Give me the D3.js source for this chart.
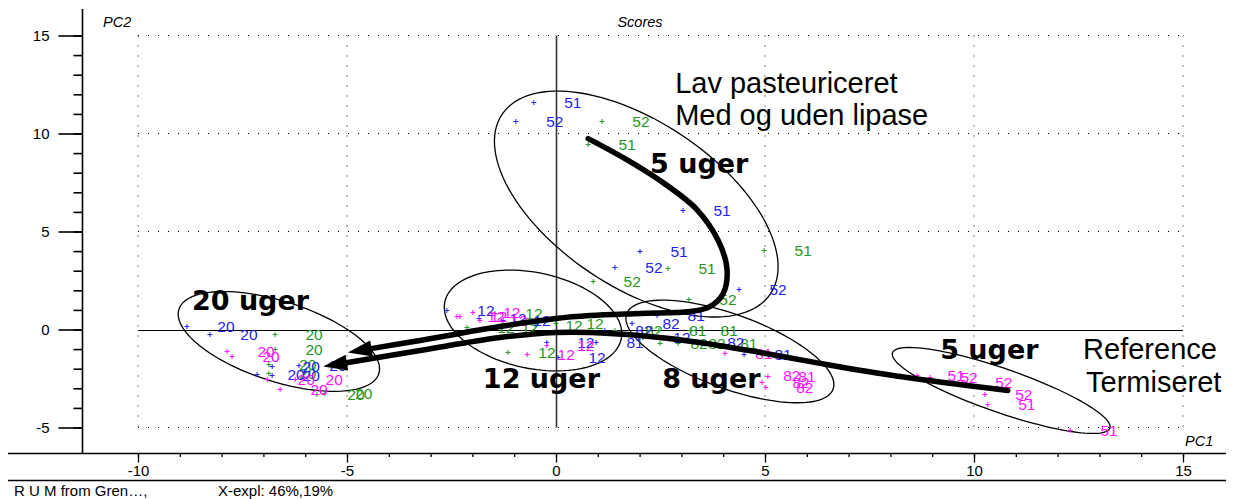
<!DOCTYPE html>
<html><head><meta charset="utf-8">
<script src="https://cdn.jsdelivr.net/npm/d3@7"></script>
<style>
body{margin:0;background:#fff}
svg{display:block;font-family:"Liberation Sans",Arial,sans-serif}
</style>
</head><body>
<svg id="c" width="1239" height="499"></svg>
<script>
// ---------- data ----------
const xMajorTicks = [-10, -5, 0, 5, 10, 15];
const xTickLabels = ["-10", "-5", "0", "5", "10", "15"];
const yMajorTicks = [-5, 0, 5, 10, 15];
const yTickLabels = ["-5", "0", "5", "10", "15"];
const xMinorTicks = d3.range(-10, 16);
const yMinorTicks = d3.range(-5, 16);

// blue series
const blueX = [-0.53, -0.96, 3.04, 2.01, 1.41, 4.38,
               -8.83, -8.28, -6.79, -7.15, -6.79, -6.15,
               -2.61, -1.84, -1.27, -0.22, 0.05, 2.08,
               2.42, 1.17, 0.96, 1.82, 3.37, 4.50];
const blueY = [11.58, 10.61, 6.07, 3.98, 3.16, 2.04,
               0.15, -0.26, -1.89, -2.30, -2.35, -1.84,
               0.97, 0.56, 0.46, -0.66, -1.43, -0.41,
               0.71, -0.05, -0.66, 0.31, -0.66, -1.28];
const blueLab = ["51","52","51","51","52","52",
                 "20","20","20","20","20","20",
                 "12","12","12","12","12","12",
                 "81","82","81","82","82","81"];
// green series
const greenX = [1.10, 0.77, 2.68, 0.89, 4.98, 3.18,
                -6.72, -6.72, -6.87, -6.87, -5.72, -5.53,
                -2.13, -1.56, -1.46, -1.15, -0.50, 0.00,
                1.41, 2.46, 3.21, 2.49, 2.92, 3.68];
const greenY = [10.61, 9.44, 3.11, 2.45, 4.03, 1.53,
                -0.26, -1.02, -1.79, -2.24, -3.32, -3.27,
                0.10, 0.10, 0.82, -1.17, 0.20, 0.31,
                -0.05, -0.05, -0.05, -0.71, -0.71, -0.71];
const greenLab = ["52","51","51","52","51","52",
                  "20","20","20","20","20","20",
                  "12","12","12","12","12","12",
                  "82","81","81","82","82","81"];
// magenta series
const magX = [-7.87, -7.75, -6.91, -6.24, -6.60,
              -2.37, -2.30, -1.99, -1.82, -0.69, -0.22,
              4.04, 4.71, 5.07, 4.93, 5.02,
              8.64, 8.95, 9.78, 10.26, 10.33, 12.30];
const magY = [-1.12, -1.38, -2.55, -2.55, -3.06,
              0.66, 0.66, 0.87, 0.46, -1.28, -0.82,
              -1.22, -2.35, -2.40, -2.70, -2.96,
              -2.35, -2.45, -2.70, -3.32, -3.83, -5.15];
const magLab = ["20","20","20","20","20",
                "12","12","12","12","12","12",
                "81","82","81","82","82",
                "51","52","52","52","51","51"];

// ellipses: centre and two half-axis vectors (data units)
const ellCX = [1.92, -6.63, -0.55, 4.16, 10.65];
const ellCY = [6.40, -0.61, 0.46, -1.12, -3.11];
const ellAX = [3.21, 2.39, 2.11, 2.47, 2.60];
const ellAY = [-4.58, -1.65, -0.95, -1.92, -1.92];
const ellBX = [-1.10, -0.30, -0.24, -0.30, -0.17];
const ellBY = [-3.50, -1.94, -2.39, -1.78, -1.06];

// arrows (data units), last point = tip
const arrowA = [[0.77,9.74],[1.65,8.72],[2.49,7.60],[3.37,6.12],[3.88,4.54],[4.09,3.11],
                [4.00,1.84],[3.68,1.17],[3.21,0.92],[2.01,0.82],[0.81,0.71],[0,0.56],
                [-1.34,0.15],[-3.25,-0.56],[-4.98,-1.17]];
const arrowB = [[10.81,-3.11],[8.23,-2.40],[6.32,-1.73],[4.88,-1.17],[3.44,-0.66],[2.01,-0.31],
                [0.81,-0.15],[0,-0.15],[-1.34,-0.41],[-3.25,-1.07],[-5.57,-1.89]];

// annotation texts
const annText = ["Lav pasteuriceret", "Med og uden lipase", "5 uger", "20 uger", "12 uger", "8 uger", "5 uger", "Reference", "Termiseret"];
const annBold = [false, false, true, true, true, true, true, false, false];
const annPos = [[2.85,12.09],[2.85,10.41],[2.25,8.01],[-8.71,0.97],[-1.75,-3.01],[2.54,-3.01],[9.19,-1.48],[12.61,-1.48],[12.68,-3.21]];

// ---------- drawing ----------
const svg = d3.select("#c");
const x = d3.scaleLinear().domain([-10, 15]).range([138, 1183]);
const y = d3.scaleLinear().domain([-5, 15]).range([427.5, 35.5]);

// dotted grid
const g = svg.append("g");
[15, 10, 5, -5].forEach(v => {
  g.append("line").attr("x1", x(-10)).attr("x2", x(15)).attr("y1", y(v)).attr("y2", y(v))
    .attr("stroke", "#000").attr("stroke-width", 1).attr("stroke-dasharray", "1,9");
});
[-10, -5, 5, 10, 15].forEach(v => {
  g.append("line").attr("x1", x(v)).attr("x2", x(v)).attr("y1", y(15)).attr("y2", y(-5))
    .attr("stroke", "#000").attr("stroke-width", 1).attr("stroke-dasharray", "1,9");
});
// zero lines
g.append("line").attr("x1", x(-10)).attr("x2", x(15)).attr("y1", Math.round(y(0))+0.5).attr("y2", Math.round(y(0))+0.5)
  .attr("stroke", "#000").attr("stroke-width", 1.2);
g.append("line").attr("x1", Math.round(x(0))+0.5).attr("x2", Math.round(x(0))+0.5).attr("y1", y(15)).attr("y2", y(-5))
  .attr("stroke", "#333").attr("stroke-width", 1.6);

// frame lines
svg.append("line").attr("x1", 8).attr("x2", 1226).attr("y1", 453.5).attr("y2", 453.5).attr("stroke", "#000").attr("stroke-width", 1.6);
svg.append("line").attr("x1", 8).attr("x2", 1226).attr("y1", 480.5).attr("y2", 480.5).attr("stroke", "#000").attr("stroke-width", 1.6);
svg.append("line").attr("x1", 82.5).attr("x2", 82.5).attr("y1", 9).attr("y2", 453.5).attr("stroke", "#000").attr("stroke-width", 1.6);

// x axis ticks
const xMinorAxis = d3.axisBottom(x).tickValues(xMinorTicks).tickSize(3.5).tickFormat("");
const xMajorAxis = d3.axisBottom(x).tickValues(xMajorTicks).tickSize(9).tickPadding(3)
  .tickFormat((d, i) => xTickLabels[i]);
const gxm = svg.append("g").attr("transform", "translate(0,453.5)").call(xMinorAxis);
const gx = svg.append("g").attr("transform", "translate(0,453.5)").call(xMajorAxis);
[gxm, gx].forEach(s => { s.select(".domain").remove(); s.selectAll("line").attr("stroke", "#000").attr("stroke-width", 1.3); });
gx.attr("font-family", null).attr("font-size", null);
gx.selectAll("text").attr("font-size", 15).attr("fill", "#000");

// y axis ticks
const yMinorAxis = d3.axisLeft(y).tickValues(yMinorTicks).tickSize(9).tickFormat("");
const yMajorAxis = d3.axisLeft(y).tickValues(yMajorTicks).tickSize(24).tickPadding(9)
  .tickFormat((d, i) => yTickLabels[i]);
const gym = svg.append("g").attr("transform", "translate(82.5,0)").call(yMinorAxis);
const gy = svg.append("g").attr("transform", "translate(82.5,0)").call(yMajorAxis);
[gym, gy].forEach(s => { s.select(".domain").remove(); s.selectAll("line").attr("stroke", "#000").attr("stroke-width", 1.6); });
gy.attr("font-family", null).attr("font-size", null);
gy.selectAll("text").attr("font-size", 15).attr("fill", "#000");

// axis titles
svg.append("text").attr("x", 103).attr("y", 27).attr("font-size", 14.5).attr("font-style", "italic").text("PC2");
svg.append("text").attr("x", 640).attr("y", 27).attr("font-size", 14.5).attr("font-style", "italic").attr("text-anchor", "middle").text("Scores");
svg.append("text").attr("x", 1185).attr("y", 446).attr("font-size", 14.5).attr("font-style", "italic").text("PC1");

// footer
svg.append("text").attr("x", 14).attr("y", 496).attr("font-size", 15).text("R U M from Gren…,");
svg.append("text").attr("x", 218).attr("y", 496).attr("font-size", 15).text("X-expl: 46%,19%");

// ellipses
const lineGen = d3.line();
const ts = d3.range(0, 121).map(i => i / 120 * 2 * Math.PI);
ellCX.forEach((cx, k) => {
  const pts = ts.map(t => [x(cx + ellAX[k] * Math.cos(t) + ellBX[k] * Math.sin(t)),
                           y(ellCY[k] + ellAY[k] * Math.cos(t) + ellBY[k] * Math.sin(t))]);
  svg.append("path").attr("d", lineGen(pts) + "Z").attr("fill", "none").attr("stroke", "#000").attr("stroke-width", 1.3);
});

// points
function drawSeries(xs, ys, labs, color) {
  const gg = svg.append("g");
  xs.forEach((vx, i) => {
    const px = x(vx), py = y(ys[i]);
    gg.append("path").attr("d", `M${px-2.5},${py}H${px+2.5}M${px},${py-2.5}V${py+2.5}`)
      .attr("stroke", color).attr("stroke-width", 1);
    gg.append("text").attr("x", px + 39).attr("y", py).attr("dy", "0.36em").attr("text-anchor", "middle")
      .attr("font-size", 15.5).attr("fill", color).text(labs[i]);
  });
}
drawSeries(greenX, greenY, greenLab, "#229922");
drawSeries(blueX, blueY, blueLab, "#2222ee");
drawSeries(magX, magY, magLab, "#ff11ff");

// arrows
function drawArrow(data) {
  const pts = data.map(d => [x(d[0]), y(d[1])]);
  const tip = pts[pts.length - 1], prev = pts[pts.length - 2];
  const dx = tip[0] - prev[0], dy = tip[1] - prev[1], len = Math.hypot(dx, dy);
  const ux = dx / len, uy = dy / len;
  const L = 24, hw = 8;
  const base = [tip[0] - ux * L, tip[1] - uy * L];
  const linePts = pts.slice(0, -1).concat([[base[0] + ux * 2, base[1] + uy * 2]]);
  svg.append("path").attr("d", d3.line().curve(d3.curveCatmullRom.alpha(0.5))(linePts))
    .attr("fill", "none").attr("stroke", "#000").attr("stroke-width", 5.5).attr("stroke-linecap", "round").attr("stroke-linejoin", "round");
  const p1 = [base[0] - uy * hw, base[1] + ux * hw], p2 = [base[0] + uy * hw, base[1] - ux * hw];
  svg.append("path").attr("d", `M${tip[0]},${tip[1]}L${p1[0]},${p1[1]}L${p2[0]},${p2[1]}Z`).attr("fill", "#000");
}
drawArrow(arrowA);
drawArrow(arrowB);

// annotations
annText.forEach((t, i) => {
  const tx = svg.append("text").attr("x", x(annPos[i][0])).attr("y", y(annPos[i][1])).text(t);
  if (annBold[i]) tx.attr("font-family", "'DejaVu Sans', sans-serif").attr("font-weight", "bold").attr("font-size", 27);
  else tx.attr("font-size", 29);
});
</script>
</body></html>
